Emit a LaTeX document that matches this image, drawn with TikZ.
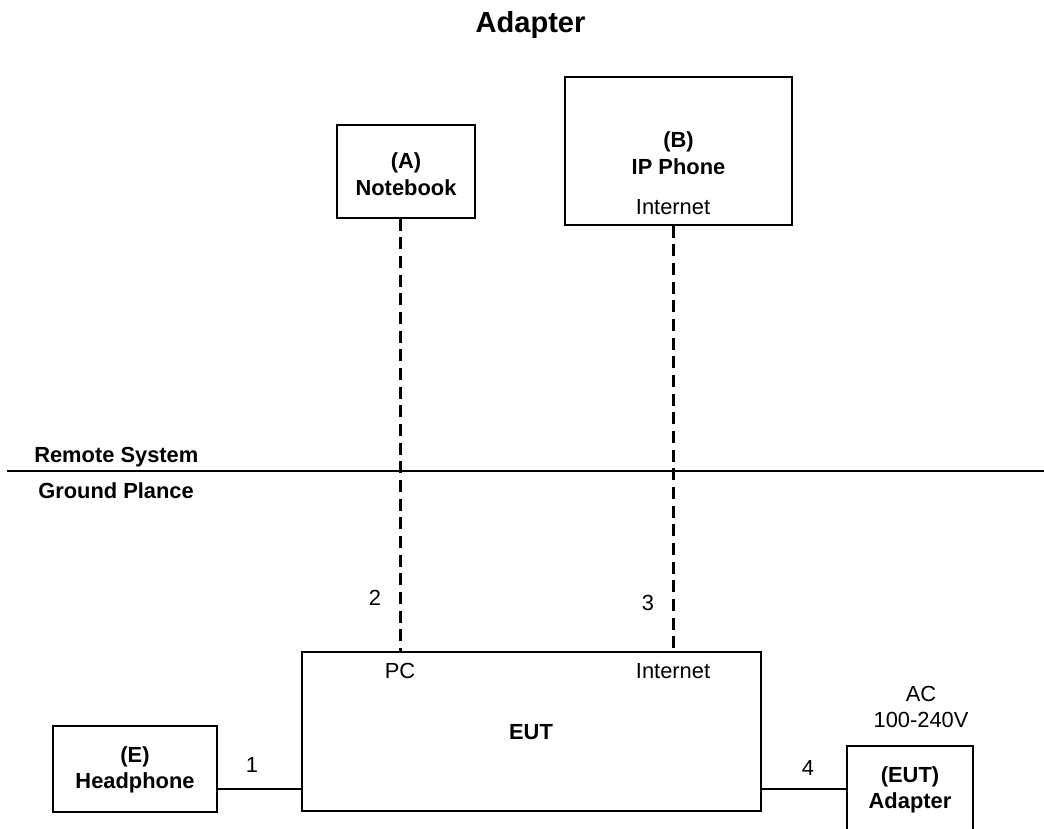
\documentclass[tikz,border=0pt]{standalone}
\usepackage{fontspec}
\setmainfont{Liberation Sans}

\begin{document}
\begin{tikzpicture}[x=0.75pt,y=0.75pt,yscale=-1,xscale=1,
	box/.style={draw,line width=1pt,inner sep=0pt},
	lbl/.style={inner sep=0.75pt,align=center,font=\fontsize{16.4}{19.8}\selectfont},
	blbl/.style={lbl,font=\fontsize{16.4}{19.8}\selectfont\bfseries},
	cable/.style={line width=1pt},
	lan/.style={line width=2.25pt,dash pattern={on 9pt off 5pt}}]
				%set diagram size 1044 x 828
				\path[use as bounding box,clip] (0,0) rectangle (1044,828);

				% Title
				\node[blbl,font=\fontsize{21.8}{25}\selectfont\bfseries,anchor=base] (title) at (530.5,32) {Adapter};

				%Shape: Rectangle [Notebook]
				\node[box,minimum width=103.5pt,minimum height=69.75pt] (nb) at (406,171.5) {};
				%Shape: Rectangle [IP Phone]
				\node[box,minimum width=170.25pt,minimum height=111pt] (ip) at (678.5,151) {};
				%Shape: Rectangle [EUT]
				\node[box,minimum width=344.25pt,minimum height=119.25pt] (eut) at (531.5,731.5) {};
				%Shape: Rectangle [Headphone]
				\node[box,minimum width=123pt,minimum height=64.5pt] (hp) at (135,769) {};
				%Shape: Rectangle [Adapter]
				\node[box,minimum width=94.5pt,minimum height=64.5pt] (ad) at (910,789) {};

				% ports
				\coordinate (pc) at (400,652);
				\coordinate (inet) at (673,652);
				\coordinate (aux) at (302,789);
				\coordinate (dc) at (761,789);
				\coordinate (gl) at (7,471);
				\coordinate (gr) at (1044,471);

				%Straight Lines [divider]
				\draw [line width=1.5pt] (gl) -- (gr);
				%Straight Lines [cables]
				\draw [lan] (nb.south -| pc) -- (pc);
				\draw [lan] (ip.south -| inet) -- (inet);
				\draw [cable] (aux -| hp.east) -- (aux);
				\draw [cable] (dc) -- (dc -| ad.west);

				% Text Node
				\node[blbl] (nbtxt) at (406,174) {(A)\\Notebook};
				% Text Node
				\node[blbl] (iptxt) at (678.5,153) {(B)\\IP Phone};
				% Text Node
				\node[lbl] (ipinet) at (673,207) {Internet};
				% Text Node
				\node[blbl,anchor=west] (remote) at (33,457) {Remote System};
				% Text Node
				\node[blbl,anchor=west] (ground) at (37,491) {Ground Plance};
				% Text Node
				\node[lbl] (n2) at (375,598) {2};
				% Text Node
				\node[lbl] (n3) at (648,603) {3};
				% Text Node
				\node[lbl] (pctxt) at (400,671) {PC};
				% Text Node
				\node[lbl] (inettxt) at (673,671) {Internet};
				% Text Node
				\node[blbl] (euttxt) at (531,732) {EUT};
				% Text Node
				\node[blbl] (hptxt) at (135,770) {(E)\\Headphone};
				% Text Node
				\node[lbl] (n1) at (252,765) {1};
				% Text Node
				\node[lbl] (n4) at (808,768) {4};
				% Text Node
				\node[lbl] (actxt) at (921,707) {AC\\100-240V};
				% Text Node
				\node[blbl] (adtxt) at (910,790) {(EUT)\\Adapter};

\end{tikzpicture}
\end{document}
